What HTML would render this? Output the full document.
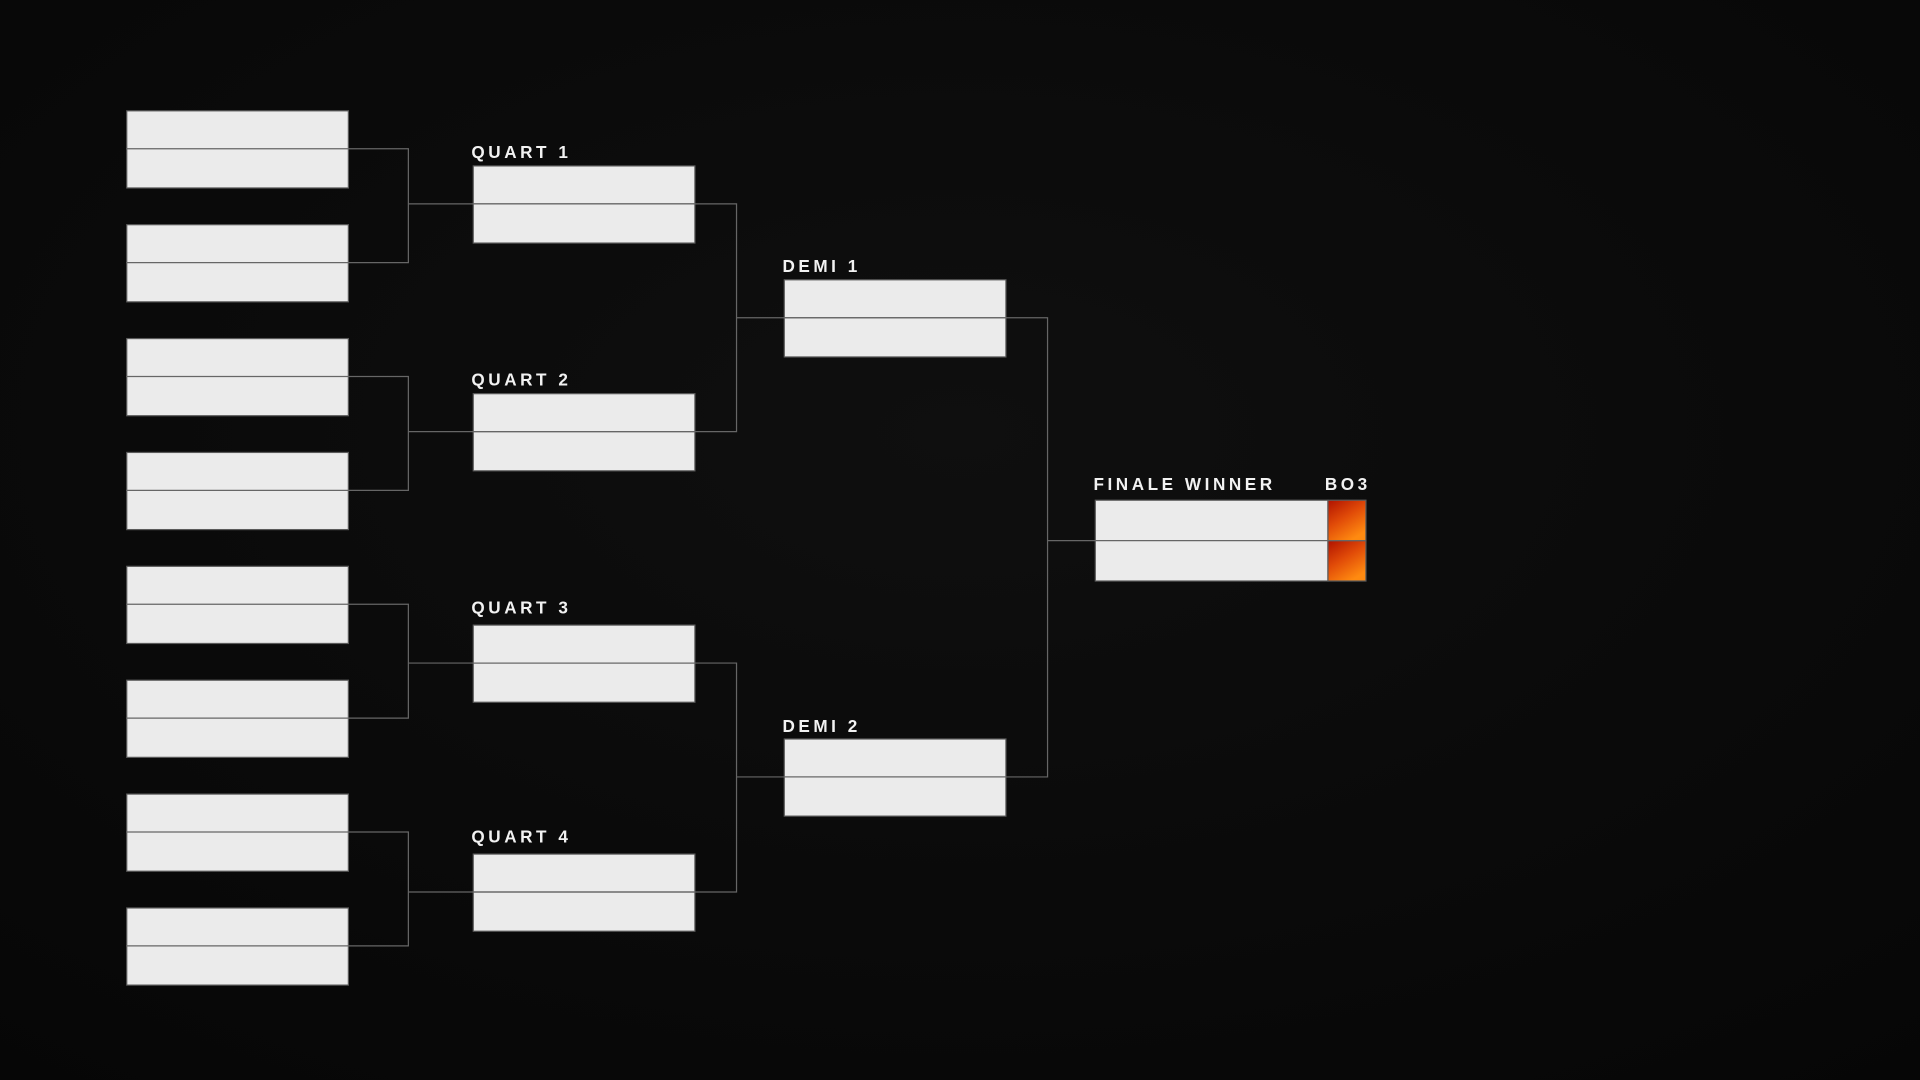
<!DOCTYPE html>
<html><head><meta charset="utf-8"><style>
html,body{margin:0;padding:0;background:#080808;overflow:hidden}
svg{display:block}
text{font-family:"Liberation Sans",sans-serif;font-weight:bold;fill:#f2f2f2;letter-spacing:2.9px;font-size:14px}
</style></head><body>
<svg width="1920" height="1080" viewBox="0 0 1568 882" preserveAspectRatio="none">
<defs>
<radialGradient id="bg" cx="0.5" cy="0.4" r="0.8">
<stop offset="0" stop-color="#0f0f0f"/><stop offset="1" stop-color="#060606"/></radialGradient>
<linearGradient id="or" x1="0" y1="0" x2="0.6" y2="1">
<stop offset="0" stop-color="#b01200"/><stop offset="0.5" stop-color="#e04a08"/><stop offset="1" stop-color="#ff8a10"/></linearGradient>
</defs>
<rect width="1568" height="882" fill="url(#bg)"/>
<g fill="#ebebeb" stroke="#5a5a5a" stroke-width="1">
<rect x="103.5" y="90.5" width="181" height="63"/>
<rect x="103.5" y="183.5" width="181" height="63"/>
<rect x="103.5" y="276.5" width="181" height="63"/>
<rect x="103.5" y="369.5" width="181" height="63"/>
<rect x="103.5" y="462.5" width="181" height="63"/>
<rect x="103.5" y="555.5" width="181" height="63"/>
<rect x="103.5" y="648.5" width="181" height="63"/>
<rect x="103.5" y="741.5" width="181" height="63"/>
<rect x="386.5" y="135.5" width="181" height="63"/>
<rect x="386.5" y="321.5" width="181" height="63"/>
<rect x="386.5" y="510.5" width="181" height="63"/>
<rect x="386.5" y="697.5" width="181" height="63"/>
<rect x="640.5" y="228.5" width="181" height="63"/>
<rect x="640.5" y="603.5" width="181" height="63"/>
<rect x="894.5" y="408.5" width="190" height="66"/>
<rect x="1084.5" y="408.5" width="31" height="33" fill="url(#or)"/>
<rect x="1084.5" y="441.5" width="31" height="33" fill="url(#or)"/>
</g>
<g stroke="#666" stroke-width="1" fill="none">
<path d="M103 121.5H333.5V214.5H103M333.5 166.5H567"/>
<path d="M103 307.5H333.5V400.5H103M333.5 352.5H567"/>
<path d="M103 493.5H333.5V586.5H103M333.5 541.5H567"/>
<path d="M103 679.5H333.5V772.5H103M333.5 728.5H567"/>
<path d="M386 166.5H601.5V352.5H386M601.5 259.5H821"/>
<path d="M386 541.5H601.5V728.5H386M601.5 634.5H821"/>
<path d="M640 259.5H855.5V634.5H640M855.5 441.5H1115"/>
</g>
<text x="385" y="129">QUART 1</text>
<text x="385" y="315">QUART 2</text>
<text x="385" y="501">QUART 3</text>
<text x="385" y="688">QUART 4</text>
<text x="639" y="222">DEMI 1</text>
<text x="639" y="598">DEMI 2</text>
<text x="893" y="400">FINALE WINNER</text>
<text x="1082" y="400">BO3</text>
</svg>
</body></html>
